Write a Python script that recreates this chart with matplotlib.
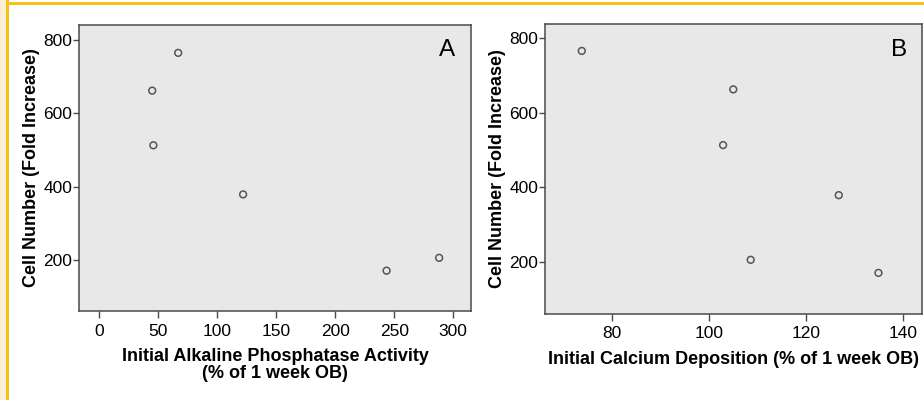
import matplotlib.pyplot as plt
from matplotlib.patches import Rectangle

plt.rcParams['font.family'] = ['Liberation Sans', 'DejaVu Sans']

# cell number (fold increase) for each culture
cell_number = [765, 662, 513, 379, 171, 206]
# initial ALP activity and calcium deposition, % of 1 week OB
alp_activity = [67, 45, 46, 122, 243.5, 288]
calcium_dep = [73.7, 105, 102.9, 126.8, 135, 108.6]

alp_ticks = [0, 50, 100, 150, 200, 250, 300]
ca_ticks = [80, 100, 120, 140]
y_ticks = [200, 400, 600, 800]

W, H = 924, 400
fig = plt.figure(figsize=(W / 100, H / 100), dpi=100)
fig.patch.set_facecolor('white')

# page border: cream strip at left, yellow rules on top and left
fig.patches.append(Rectangle((0, 0), 6 / W, 1, transform=fig.transFigure,
                             facecolor='#fcefd4', edgecolor='none', zorder=0))
fig.patches.append(Rectangle((6 / W, 0), 3 / W, 1, transform=fig.transFigure,
                             facecolor='#f5c21b', edgecolor='none', zorder=1))
fig.patches.append(Rectangle((6 / W, (H - 5) / H), 1, 3 / H, transform=fig.transFigure,
                             facecolor='#f5c21b', edgecolor='none', zorder=1))


def make_axes(x0, y0, x1, y1):
    ax = fig.add_axes([x0 / W, (H - y1) / H, (x1 - x0) / W, (y1 - y0) / H])
    ax.set_facecolor('#e8e8e8')
    for s in ax.spines.values():
        s.set_color('#4a4a4a')
        s.set_linewidth(1.1)
    ax.tick_params(direction='out', length=4, width=1, color='#4a4a4a',
                   labelsize=12.5, labelcolor='black', pad=1)
    ax.tick_params(axis='x', length=5, pad=4)
    ax.set_yticks(y_ticks)
    return ax


axA = make_axes(79, 25, 471, 311)
axA.scatter(alp_activity, cell_number, s=24, facecolors='none',
            edgecolors='#555555', linewidths=1.1, zorder=3)
axA.set_xlim(-17, 315)
axA.set_ylim(61, 841)
axA.set_xticks(alp_ticks)
axA.set_xlabel('Initial Alkaline Phosphatase Activity\n(% of 1 week OB)',
               fontsize=13, fontweight='bold', labelpad=7, linespacing=1.0)
axA.set_ylabel('Cell Number (Fold Increase)', fontsize=13, fontweight='bold', labelpad=2)
axA.text(0.94, 0.95, 'A', transform=axA.transAxes, fontsize=17.5,
         ha='center', va='top')

axB = make_axes(545, 24, 922, 314)
axB.scatter(calcium_dep, cell_number, s=24, facecolors='none',
            edgecolors='#555555', linewidths=1.1, zorder=3)
axB.set_xlim(66.1, 144)
axB.set_ylim(61, 837)
axB.set_xticks(ca_ticks)
axB.set_xlabel('Initial Calcium Deposition (% of 1 week OB)',
               fontsize=13, fontweight='bold', labelpad=7)
axB.set_ylabel('Cell Number (Fold Increase)', fontsize=13, fontweight='bold', labelpad=2)
axB.text(0.94, 0.95, 'B', transform=axB.transAxes, fontsize=17.5,
         ha='center', va='top')

fig.savefig('out.png', dpi=100)
